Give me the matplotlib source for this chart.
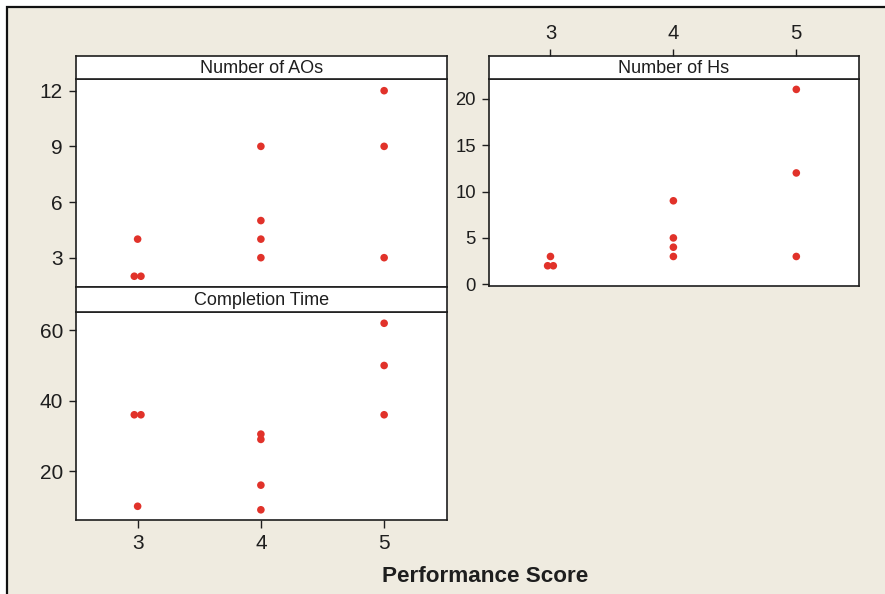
import matplotlib
matplotlib.use("Agg")
import matplotlib.pyplot as plt
from matplotlib.patches import Rectangle
from collections import Counter

plt.rcParams['font.family'] = ['Liberation Sans', 'DejaVu Sans']

# Performance score for each observation, and the three measured outcomes
ao_score = [3, 3, 3, 4, 4, 4, 4, 5, 5, 5]
ao_value = [4, 2, 2, 9, 5, 4, 3, 12, 9, 3]

hs_score = [3, 3, 3, 4, 4, 4, 4, 5, 5, 5]
hs_value = [3, 2, 2, 9, 5, 4, 3, 21, 12, 3]

ct_score = [3, 3, 3, 4, 4, 4, 4, 5, 5, 5]
ct_value = [36, 36, 10, 30.5, 29, 16, 9, 62, 50, 36]

score_ticks = [3, 4, 5]
ao_ticks = [3, 6, 9, 12]
hs_ticks = [0, 5, 10, 15, 20]
ct_ticks = [20, 40, 60]

W, H = 885, 594
DOT = '#E1322A'
INK = '#1e1e1e'
BG = '#EFEBE0'

fig = plt.figure(figsize=(W / 100, H / 100), dpi=100, facecolor='white')

# outer beige frame, kept behind every panel
frame = Rectangle((7 / W, -0.1), 1.2, 1 - 7 / H + 0.1, transform=fig.transFigure,
                  facecolor=BG, edgecolor='#111111', linewidth=1.6, zorder=-10)
fig.patches.append(frame)


def rect(l, t, r, b):
    return [l / W, 1 - b / H, (r - l) / W, (b - t) / H]


def spread(xs, ys, step):
    """Shift tied points sideways so that they stay visible."""
    seen = Counter(zip(xs, ys))
    used = Counter()
    out = []
    for x, y in zip(xs, ys):
        n = seen[(x, y)]
        k = used[(x, y)]
        used[(x, y)] += 1
        out.append(x + (k - (n - 1) / 2) * step)
    return out


def style_axis(ax, fsize):
    for s in ax.spines.values():
        s.set_color(INK)
        s.set_linewidth(1.2)
    ax.tick_params(direction='out', length=5.4, width=1.0, color=INK,
                   labelsize=fsize, labelcolor=INK, pad=4)
    ax.set_facecolor('white')


def panel(plot_box, strip_box, title, xs, ys, yticks, ylim, fsize, step,
          bottom_ticks=False, top_ticks=False):
    ax = fig.add_axes(rect(*plot_box))
    ax.scatter(spread(xs, ys, step), ys, s=30, color=DOT, edgecolors='none',
               zorder=3, clip_on=False)
    ax.set_xlim(2.5, 5.51)
    ax.set_ylim(*ylim)
    ax.set_yticks(yticks)
    ax.set_xticks(score_ticks)
    style_axis(ax, fsize)
    if not bottom_ticks:
        ax.tick_params(axis='x', bottom=False, labelbottom=False)
    else:
        ax.tick_params(axis='x', pad=5)

    st = fig.add_axes(rect(*strip_box))
    st.set_xlim(2.5, 5.51)
    st.set_yticks([])
    style_axis(st, fsize)
    if top_ticks:
        st.set_xticks(score_ticks)
        st.tick_params(axis='x', bottom=False, labelbottom=False,
                       top=True, labeltop=True, pad=4, labelsize=14.6)
    else:
        st.set_xticks([])
    st.text(0.5, 0.47, title, transform=st.transAxes, ha='center', va='center',
            fontsize=13, color=INK)
    return ax


panel((76, 79, 447, 287), (76, 56, 447, 79), 'Number of AOs',
      ao_score, ao_value, ao_ticks, (1.42, 12.63), 15, 0.054)

panel((76, 312, 447, 520), (76, 287, 447, 312), 'Completion Time',
      ct_score, ct_value, ct_ticks, (6.1, 65.2), 15, 0.054, bottom_ticks=True)

panel((489, 79, 859, 286), (489, 56, 859, 79), 'Number of Hs',
      hs_score, hs_value, hs_ticks, (-0.18, 22.12), 13.3, 0.046, top_ticks=True)

fig.text(485.5 / W, 1 - 576 / H, 'Performance Score', ha='center', va='center',
         fontsize=16.2, fontweight='bold', color=INK)

fig.savefig('out.png', dpi=100, facecolor=fig.get_facecolor())
